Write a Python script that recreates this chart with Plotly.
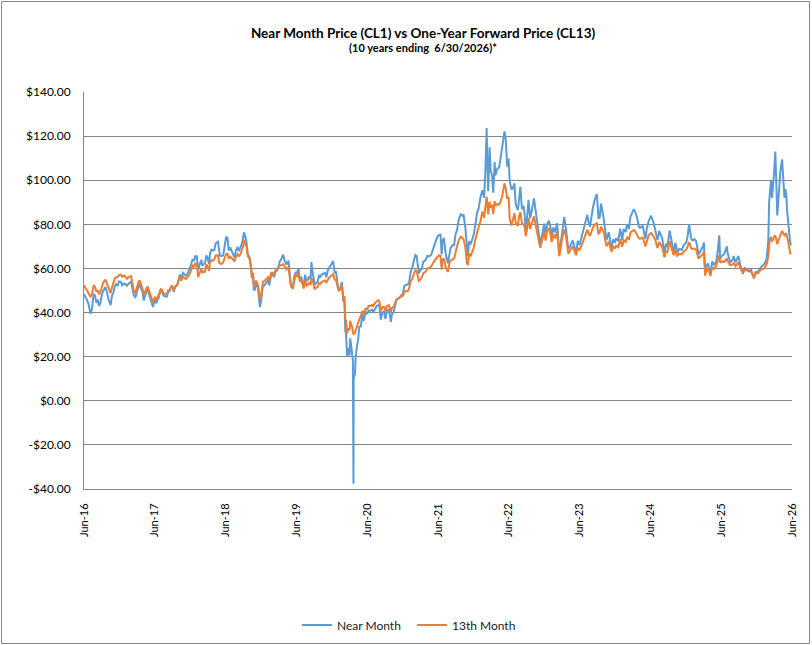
import pandas as pd
import plotly.graph_objects as go

# price data (USD/bbl), roughly every two weeks
dates = [
    '2016-06-30', '2016-07-15', '2016-07-29', '2016-08-03', '2016-08-19', '2016-09-02', '2016-09-16',
    '2016-09-30', '2016-10-19', '2016-11-01', '2016-11-14', '2016-11-30', '2016-12-12', '2016-12-28',
    '2017-01-13', '2017-01-31', '2017-02-15', '2017-02-28', '2017-03-14', '2017-03-31', '2017-04-12',
    '2017-04-28', '2017-05-04', '2017-05-24', '2017-06-09', '2017-06-21', '2017-07-07', '2017-07-31',
    '2017-08-15', '2017-08-31', '2017-09-15', '2017-09-29', '2017-10-13', '2017-10-31', '2017-11-15',
    '2017-11-30', '2017-12-15', '2017-12-29', '2018-01-12', '2018-01-25', '2018-02-09', '2018-02-26',
    '2018-03-09', '2018-03-23', '2018-04-06', '2018-04-18', '2018-05-03', '2018-05-22', '2018-06-01',
    '2018-06-18', '2018-07-03', '2018-07-17', '2018-08-01', '2018-08-15', '2018-08-31', '2018-09-14',
    '2018-09-28', '2018-10-03', '2018-10-16', '2018-10-31', '2018-11-13', '2018-11-23', '2018-12-03',
    '2018-12-14', '2018-12-24', '2019-01-09', '2019-01-25', '2019-02-11', '2019-02-28', '2019-03-15',
    '2019-03-29', '2019-04-12', '2019-04-23', '2019-05-10', '2019-05-21', '2019-05-31', '2019-06-12',
    '2019-06-28', '2019-07-11', '2019-07-26', '2019-08-07', '2019-08-23', '2019-09-06', '2019-09-16',
    '2019-10-03', '2019-10-18', '2019-11-01', '2019-11-15', '2019-12-02', '2019-12-16', '2020-01-06',
    '2020-01-21', '2020-02-04', '2020-02-20', '2020-02-28', '2020-03-09', '2020-03-18', '2020-03-31',
    '2020-04-08', '2020-04-17', '2020-04-20', '2020-04-21', '2020-04-28', '2020-05-08', '2020-05-20',
    '2020-06-05', '2020-06-22', '2020-07-08', '2020-07-24', '2020-08-07', '2020-08-26', '2020-09-08',
    '2020-09-24', '2020-10-09', '2020-10-30', '2020-11-13', '2020-11-27', '2020-12-11', '2020-12-31',
    '2021-01-15', '2021-02-01', '2021-02-16', '2021-03-05', '2021-03-23', '2021-04-07', '2021-04-28',
    '2021-05-18', '2021-06-08', '2021-06-25', '2021-07-06', '2021-07-19', '2021-07-30', '2021-08-20',
    '2021-09-03', '2021-09-21', '2021-10-06', '2021-10-26', '2021-11-09', '2021-11-26', '2021-12-01',
    '2021-12-15', '2021-12-31', '2022-01-18', '2022-02-04', '2022-02-23', '2022-03-08', '2022-03-16',
    '2022-03-23', '2022-04-11', '2022-04-22', '2022-05-11', '2022-05-27', '2022-06-08', '2022-06-22',
    '2022-07-05', '2022-07-14', '2022-07-29', '2022-08-16', '2022-08-29', '2022-09-14', '2022-09-26',
    '2022-10-10', '2022-10-25', '2022-11-07', '2022-11-28', '2022-12-09', '2022-12-30', '2023-01-13',
    '2023-01-31', '2023-02-15', '2023-03-06', '2023-03-17', '2023-03-31', '2023-04-12', '2023-05-03',
    '2023-05-19', '2023-06-12', '2023-06-30', '2023-07-14', '2023-08-09', '2023-08-23', '2023-09-07',
    '2023-09-27', '2023-10-06', '2023-10-19', '2023-11-02', '2023-11-16', '2023-12-12', '2023-12-29',
    '2024-01-16', '2024-01-26', '2024-02-13', '2024-03-01', '2024-03-19', '2024-04-05', '2024-04-22',
    '2024-05-07', '2024-06-04', '2024-06-20', '2024-07-03', '2024-07-26', '2024-08-05', '2024-08-23',
    '2024-09-10', '2024-09-25', '2024-10-07', '2024-10-28', '2024-11-15', '2024-12-09', '2024-12-31',
    '2025-01-15', '2025-02-04', '2025-02-20', '2025-03-05', '2025-03-26', '2025-04-08', '2025-04-23',
    '2025-05-05', '2025-05-23', '2025-06-05', '2025-06-20', '2025-07-01', '2025-07-30', '2025-08-15',
    '2025-09-02', '2025-09-26', '2025-10-20', '2025-11-05', '2025-11-20', '2025-12-16', '2026-01-05',
    '2026-01-20', '2026-02-07', '2026-02-20', '2026-02-28', '2026-03-04', '2026-03-14', '2026-03-25',
    '2026-04-05', '2026-04-15', '2026-04-26', '2026-05-10', '2026-05-22', '2026-06-01', '2026-06-09',
    '2026-06-20', '2026-06-25',
]

near_month = [
    48.3, 45.9, 41.6, 39.5, 48.5, 44.4, 43.0,
    48.2, 51.6, 46.7, 43.3, 49.4, 52.8, 54.1,
    52.4, 52.8, 53.1, 54.0, 47.7, 50.6, 53.1,
    49.3, 45.5, 51.4, 45.8, 42.5, 44.2, 50.2,
    47.6, 47.2, 50.0, 51.7, 51.4, 54.4, 55.3,
    57.4, 57.3, 60.4, 64.3, 65.5, 59.2, 63.9,
    62.0, 65.9, 62.1, 68.5, 68.4, 72.2, 65.8,
    65.9, 74.1, 68.1, 67.7, 65.0, 69.8, 69.0,
    73.3, 76.4, 72.0, 65.3, 55.7, 50.4, 53.0,
    51.2, 42.5, 52.4, 53.7, 52.4, 57.2, 58.5,
    60.1, 63.9, 66.3, 61.7, 63.1, 53.5, 51.1,
    58.5, 60.2, 56.2, 51.1, 54.2, 56.5, 62.9,
    52.5, 53.8, 56.2, 57.7, 56.0, 60.2, 63.3,
    58.3, 49.6, 53.8, 44.8, 31.1, 20.4, 20.5,
    25.1, 18.3, -37.6, 10.0, 12.3, 24.7, 33.5,
    39.6, 40.5, 40.9, 41.3, 41.2, 43.4, 36.8,
    40.3, 40.6, 35.8, 40.1, 45.5, 46.6, 48.5,
    52.4, 53.6, 60.1, 66.1, 57.8, 59.8, 63.9,
    65.5, 70.1, 74.1, 75.2, 66.4, 73.9, 62.3,
    69.3, 70.5, 77.4, 84.7, 84.2, 68.2, 65.6,
    70.9, 75.2, 85.4, 92.3, 92.1, 123.7, 95.0,
    114.9, 94.3, 102.1, 105.7, 115.1, 122.1, 106.2,
    99.5, 95.8, 98.6, 86.5, 97.0, 88.5, 76.7,
    91.1, 85.3, 91.8, 77.2, 71.0, 80.3, 79.9,
    78.9, 78.6, 80.5, 66.7, 75.7, 83.3, 68.6,
    71.7, 67.1, 70.6, 75.4, 84.4, 78.9, 87.5,
    93.7, 82.8, 89.4, 82.5, 72.9, 68.6, 71.7,
    72.4, 78.0, 77.9, 80.0, 83.5, 86.9, 82.9,
    78.4, 73.3, 81.3, 83.9, 77.2, 72.9, 74.8,
    65.8, 69.7, 77.1, 67.4, 67.0, 68.4, 71.7,
    80.0, 72.7, 72.5, 66.3, 69.7, 57.6, 62.3,
    57.1, 61.5, 63.4, 75.0, 65.5, 70.0, 62.8,
    65.6, 65.7, 57.5, 59.6, 59.0, 55.5, 58.5,
    60.5, 62.0, 65.0, 73.0, 90.0, 100.0, 97.0,
    113.0, 84.0, 100.0, 109.5, 92.0, 93.0, 81.0,
    72.0, 70.5,
]

month_13 = [
    52.4, 50.5, 47.8, 47.0, 52.4, 49.4, 48.3,
    52.3, 54.9, 51.5, 48.8, 53.5, 56.0, 57.0,
    56.3, 56.0, 56.1, 56.5, 49.6, 52.4, 54.7,
    50.8, 47.6, 51.8, 47.2, 44.4, 45.8, 50.6,
    48.6, 48.5, 50.4, 51.7, 51.9, 54.0, 54.4,
    55.6, 56.0, 58.0, 61.3, 62.3, 56.0, 59.8,
    58.6, 61.8, 58.9, 63.8, 64.0, 66.0, 62.4,
    62.8, 66.5, 64.4, 64.8, 63.2, 66.5, 66.3,
    69.8, 72.9, 69.8, 64.5, 56.9, 51.8, 54.5,
    52.6, 45.6, 54.0, 55.2, 54.2, 58.0, 59.2,
    60.4, 61.4, 62.0, 59.6, 60.5, 53.6, 51.0,
    57.8, 58.0, 54.8, 50.9, 52.2, 53.8, 55.6,
    50.5, 51.5, 53.0, 54.0, 53.7, 55.8, 57.4,
    54.8, 50.3, 52.4, 45.9, 36.5, 30.5, 32.0,
    34.8, 31.4, 29.9, 31.0, 30.8, 33.9, 37.0,
    40.7, 41.8, 43.0, 43.5, 44.2, 45.6, 40.8,
    42.6, 43.0, 40.2, 42.7, 45.9, 46.4, 47.6,
    49.8, 50.9, 55.1, 59.2, 54.4, 55.9, 58.6,
    60.2, 63.1, 65.0, 66.0, 59.4, 64.6, 58.5,
    63.6, 64.5, 70.0, 74.4, 73.2, 62.5, 61.5,
    65.5, 69.3, 76.8, 81.4, 83.0, 92.6, 84.5,
    90.2, 84.6, 88.3, 88.9, 92.6, 98.6, 91.6,
    82.5, 79.5, 85.0, 79.3, 85.5, 80.0, 74.6,
    82.9, 79.9, 83.6, 74.3, 69.4, 76.7, 76.7,
    75.7, 75.5, 76.5, 65.6, 73.0, 77.8, 66.7,
    69.0, 66.0, 68.3, 71.2, 77.6, 74.7, 78.6,
    80.5, 75.5, 78.9, 76.4, 70.0, 67.4, 69.0,
    69.6, 73.2, 72.8, 74.3, 76.4, 77.4, 75.2,
    73.5, 70.0, 75.0, 76.1, 72.6, 69.3, 70.6,
    65.1, 67.4, 72.4, 66.0, 65.8, 66.5, 68.4,
    72.0, 68.8, 68.6, 64.5, 66.4, 56.7, 59.9,
    56.6, 59.8, 61.3, 66.0, 63.2, 64.5, 61.5,
    62.6, 62.8, 58.0, 59.2, 58.6, 55.6, 57.8,
    59.5, 60.0, 62.0, 66.0, 72.0, 74.0, 73.0,
    75.0, 71.0, 74.0, 77.0, 75.0, 76.0, 73.0,
    67.0, 66.5,
]

# in-between readings that carry the short-term wiggles
extra_dates = [
    '2016-07-07', '2016-07-22', '2016-08-10', '2016-08-26', '2016-09-09', '2016-09-23', '2016-10-07',
    '2016-10-28', '2016-11-21', '2016-12-05', '2016-12-20', '2017-01-06', '2017-01-23', '2017-02-07',
    '2017-02-22', '2017-03-08', '2017-03-22', '2017-04-05', '2017-04-20', '2017-05-12', '2017-05-31',
    '2017-06-15', '2017-06-30', '2017-07-20', '2017-08-07', '2017-08-24', '2017-09-07', '2017-09-25',
    '2017-10-06', '2017-10-24', '2017-11-07', '2017-11-22', '2017-12-07', '2017-12-21', '2018-01-04',
    '2018-01-19', '2018-02-02', '2018-02-16', '2018-03-02', '2018-03-16', '2018-03-29', '2018-04-11',
    '2018-04-26', '2018-05-10', '2018-05-29', '2018-06-08', '2018-06-26', '2018-07-10', '2018-07-24',
    '2018-08-08', '2018-08-22', '2018-09-07', '2018-09-21', '2018-10-09', '2018-10-23', '2018-11-06',
    '2018-11-19', '2018-11-28', '2018-12-07', '2018-12-19', '2018-12-31', '2019-01-16', '2019-02-04',
    '2019-02-20', '2019-03-08', '2019-03-22', '2019-04-05', '2019-04-30', '2019-05-16', '2019-06-05',
    '2019-06-20', '2019-07-03', '2019-07-18', '2019-08-01', '2019-08-14', '2019-08-30', '2019-09-12',
    '2019-09-24', '2019-10-10', '2019-10-25', '2019-11-08', '2019-11-25', '2019-12-09', '2019-12-27',
    '2020-01-14', '2020-01-28', '2020-02-12', '2020-03-04', '2020-03-12', '2020-03-24', '2020-04-03',
    '2020-04-13', '2020-05-01', '2020-05-14', '2020-05-28', '2020-06-12', '2020-06-30', '2020-07-16',
    '2020-07-31', '2020-08-17', '2020-09-01', '2020-09-16', '2020-10-02', '2020-10-20', '2020-11-04',
    '2020-11-20', '2020-12-04', '2020-12-21', '2021-01-08', '2021-01-25', '2021-02-09', '2021-02-25',
    '2021-03-12', '2021-03-31', '2021-04-16', '2021-05-05', '2021-05-26', '2021-06-16', '2021-07-13',
    '2021-07-23', '2021-08-09', '2021-08-30', '2021-09-13', '2021-09-28', '2021-10-15', '2021-11-02',
    '2021-11-18', '2021-12-08', '2021-12-22', '2022-01-07', '2022-01-26', '2022-02-14', '2022-03-01',
    '2022-03-04', '2022-03-11', '2022-03-14', '2022-03-29', '2022-04-05', '2022-04-18', '2022-05-02',
    '2022-05-18', '2022-06-14', '2022-06-29', '2022-07-21', '2022-08-05', '2022-08-23', '2022-09-06',
    '2022-09-20', '2022-10-03', '2022-10-18', '2022-11-16', '2022-12-19', '2023-01-06', '2023-01-23',
    '2023-02-06', '2023-02-24', '2023-03-10', '2023-03-23', '2023-04-21', '2023-05-12', '2023-05-26',
    '2023-06-21', '2023-07-28', '2023-08-17', '2023-09-15', '2023-10-12', '2023-10-27', '2023-11-28',
    '2023-12-20', '2024-01-05', '2024-02-05', '2024-02-23', '2024-03-11', '2024-04-12', '2024-05-01',
    '2024-05-21', '2024-06-11', '2024-07-16', '2024-08-14', '2024-08-30', '2024-09-17', '2024-10-14',
    '2024-11-06', '2024-11-25', '2024-12-18', '2025-01-07', '2025-01-27', '2025-02-11', '2025-03-13',
    '2025-04-02', '2025-04-15', '2025-05-14', '2025-06-12', '2025-06-24', '2025-07-15', '2025-08-01',
    '2025-08-29', '2025-09-12', '2025-10-06', '2025-10-29', '2025-12-01', '2025-12-24', '2026-01-12',
    '2026-02-14', '2026-03-08', '2026-03-19', '2026-03-30', '2026-04-09', '2026-04-20', '2026-05-01',
    '2026-05-16', '2026-05-27', '2026-06-04', '2026-06-14',
]

extra_near = [
    47.4, 44.2, 41.7, 47.6, 45.9, 44.5, 49.8,
    48.7, 47.5, 51.8, 52.2, 53.9, 53.2, 52.2,
    53.6, 50.3, 47.0, 51.2, 50.7, 47.8, 48.3,
    44.5, 46.0, 46.8, 49.4, 47.4, 49.1, 52.2,
    49.3, 52.5, 57.2, 58.0, 56.7, 58.4, 62.0,
    63.4, 65.5, 61.7, 61.3, 62.3, 64.9, 66.8,
    68.2, 71.4, 66.7, 65.7, 70.5, 73.8, 69.5,
    67.0, 67.9, 67.8, 70.8, 74.9, 66.4, 62.2,
    57.2, 50.3, 52.6, 47.2, 45.4, 52.3, 54.6,
    56.9, 56.1, 59.0, 63.1, 63.9, 62.9, 51.7,
    56.7, 57.3, 55.3, 53.9, 57.1, 55.1, 55.1,
    57.3, 53.6, 56.7, 57.2, 58.0, 59.0, 61.7,
    58.2, 53.5, 51.2, 46.8, 31.5, 24.0, 28.3,
    22.4, 19.8, 27.6, 33.7, 36.3, 39.3, 40.8,
    40.3, 42.9, 42.8, 40.2, 37.1, 41.5, 39.2,
    42.2, 46.3, 47.7, 52.2, 52.8, 58.4, 63.5,
    65.6, 59.2, 63.1, 65.6, 66.2, 72.2, 75.3,
    72.1, 66.5, 69.2, 70.5, 75.3, 82.3, 83.9,
    78.4, 72.4, 72.8, 78.9, 87.4, 95.5, 103.4,
    115.7, 109.3, 103.0, 104.2, 102.0, 108.2, 105.2,
    109.6, 118.9, 109.8, 96.4, 89.0, 93.7, 86.9,
    84.5, 83.6, 82.8, 85.6, 75.2, 73.8, 81.6,
    74.1, 76.3, 76.7, 70.0, 77.9, 70.0, 72.7,
    72.5, 80.6, 80.4, 90.8, 83.0, 85.5, 76.4,
    73.2, 73.8, 72.8, 76.5, 77.9, 85.7, 79.0,
    79.3, 78.0, 80.8, 77.0, 73.6, 71.2, 73.8,
    71.7, 68.9, 70.6, 74.2, 73.2, 73.3, 67.6,
    71.7, 61.3, 63.2, 68.0, 64.4, 66.5, 67.3,
    64.0, 62.7, 61.7, 60.5, 59.3, 58.4, 59.5,
    63.0, 96.0, 92.0, 104.0, 98.0, 90.0, 104.0,
    99.0, 96.0, 87.0, 78.0,
]

extra_m13 = [
    51.4, 49.0, 48.5, 51.6, 50.2, 49.4, 53.6,
    52.8, 51.3, 55.3, 56.1, 57.2, 56.8, 55.3,
    56.2, 52.6, 49.0, 53.2, 52.3, 49.8, 49.6,
    46.1, 47.2, 48.0, 50.3, 48.6, 50.0, 52.0,
    50.2, 52.6, 56.2, 56.4, 55.2, 56.5, 59.8,
    60.6, 61.6, 58.0, 57.9, 58.5, 61.0, 62.8,
    63.5, 65.9, 62.5, 62.0, 65.2, 66.8, 65.3,
    64.1, 65.2, 65.6, 68.0, 71.8, 65.6, 62.4,
    57.9, 51.8, 54.1, 49.4, 48.0, 54.2, 56.0,
    58.0, 57.3, 59.5, 61.3, 61.0, 60.4, 51.5,
    55.4, 56.1, 54.1, 52.8, 54.6, 52.8, 52.4,
    54.0, 51.4, 53.3, 53.8, 54.5, 55.0, 56.6,
    54.9, 51.8, 50.6, 47.5, 36.8, 33.0, 36.3,
    33.5, 31.8, 35.0, 38.5, 39.5, 41.5, 43.0,
    42.9, 45.0, 44.9, 42.4, 40.5, 43.4, 42.0,
    44.0, 46.2, 47.2, 49.5, 49.7, 54.3, 57.3,
    58.8, 55.0, 58.0, 60.0, 61.0, 64.0, 65.7,
    63.6, 60.6, 63.3, 64.1, 67.8, 72.8, 73.9,
    69.7, 66.8, 67.4, 72.5, 78.9, 85.8, 88.5,
    91.5, 89.8, 86.8, 88.0, 88.4, 90.5, 89.2,
    90.2, 96.5, 92.5, 81.9, 80.5, 83.9, 80.3,
    78.8, 78.2, 77.9, 79.6, 72.6, 72.6, 78.3,
    71.9, 73.6, 73.8, 68.0, 74.6, 67.7, 70.1,
    69.4, 75.0, 75.5, 79.8, 76.3, 77.6, 72.1,
    70.2, 70.4, 69.8, 72.0, 73.0, 76.8, 73.6,
    74.0, 72.6, 74.5, 72.0, 69.6, 67.8, 70.0,
    68.5, 66.6, 67.6, 69.8, 69.0, 69.0, 65.3,
    67.7, 59.2, 60.6, 63.5, 62.6, 63.0, 63.4,
    61.8, 61.0, 60.2, 59.6, 58.6, 57.9, 58.6,
    61.2, 73.5, 72.5, 74.5, 73.5, 72.5, 75.0,
    76.0, 75.5, 74.0, 70.5,
]

x_tick_dates = ['2016-06-30', '2017-06-30', '2018-06-30', '2019-06-30', '2020-06-30', '2021-06-30',
                '2022-06-30', '2023-06-30', '2024-06-30', '2025-06-30', '2026-06-30']
x_tick_labels = ['Jun-16', 'Jun-17', 'Jun-18', 'Jun-19', 'Jun-20', 'Jun-21',
                 'Jun-22', 'Jun-23', 'Jun-24', 'Jun-25', 'Jun-26']
y_tick_vals = [-40, -20, 0, 20, 40, 60, 80, 100, 120, 140]
y_tick_labels = ['-$40.00', '-$20.00', '$0.00', '$20.00', '$40.00', '$60.00',
                 '$80.00', '$100.00', '$120.00', '$140.00']

# merge both sets of readings into one date-ordered table
df = pd.DataFrame({
    'date': pd.to_datetime(dates + extra_dates),
    'near': near_month + extra_near,
    'm13': month_13 + extra_m13,
}).sort_values('date')

font = 'Lato, Calibri, Arial, sans-serif'

fig = go.Figure()
fig.add_trace(go.Scatter(x=df['date'], y=df['near'], mode='lines', name='Near Month',
                         line=dict(color='#5B9BD5', width=2)))
fig.add_trace(go.Scatter(x=df['date'], y=df['m13'], mode='lines', name='13th Month',
                         line=dict(color='#ED7D31', width=2)))

# plot area spans x 84..792, y 92..489 px
fig.update_layout(
    width=812, height=645,
    margin=dict(l=84, r=20, t=92, b=156),
    paper_bgcolor='white', plot_bgcolor='white',
    font=dict(family=font, color='#000000', size=12),
    title=dict(
        text='<b>Near Month Price (CL1) vs One-Year Forward Price (CL13)</b>',
        x=0.521, xanchor='center', y=1 - 33 / 645, yanchor='middle',
        font=dict(family=font, size=13.5, color='#000000')),
    legend=dict(orientation='h', xref='container', x=297 / 812, xanchor='left',
                yref='container', y=1 - 625 / 645, yanchor='middle',
                font=dict(size=12, color='#1a1a1a'), itemwidth=30,
                entrywidth=70, entrywidthmode='pixels'),
    showlegend=True,
)

fig.add_annotation(text='<b>(10 years ending\u00a0 6/30/2026)*</b>',
                   xref='paper', yref='paper', x=(423 - 84) / 708, y=(489 - 47) / 397,
                   xanchor='center', yanchor='middle', showarrow=False,
                   font=dict(family=font, size=11, color='#000000'))

fig.update_xaxes(
    range=['2016-06-30', '2026-06-30'],
    tickvals=x_tick_dates, ticktext=x_tick_labels, tickangle=-90,
    tickfont=dict(size=11), ticklabelstandoff=9,
    showgrid=False, showline=True, linecolor='#868686', linewidth=1,
    ticks='',
)
fig.update_yaxes(
    range=[-40, 140],
    tickvals=y_tick_vals, ticktext=y_tick_labels,
    showgrid=True, gridcolor='#868686', gridwidth=1,
    showline=True, linecolor='#868686', linewidth=1,
    zeroline=False, ticks='', ticklabelstandoff=10,
)

# outer chart border
fig.add_shape(type='rect', xref='paper', yref='paper',
              x0=(1.5 - 84) / 708, x1=(809.5 - 84) / 708,
              y0=(489 - 643.5) / 397, y1=(489 - 1.5) / 397,
              line=dict(color='#868686', width=1))

# page body has a default 8px margin; drop it so the chart sits at the window corner
fig.write_html("out.html", config={'displayModeBar': False},
               post_script="document.body.style.margin='0';")
